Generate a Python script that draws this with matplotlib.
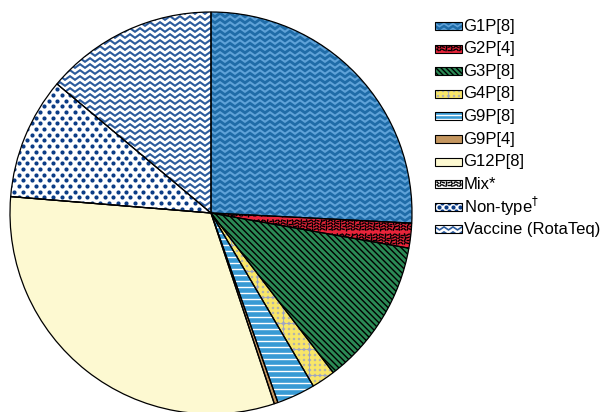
import numpy as np
import matplotlib
matplotlib.use("Agg")
import matplotlib.pyplot as plt
from matplotlib.patches import Wedge, Rectangle
from matplotlib.collections import LineCollection

plt.rcParams['font.family'] = ['Liberation Sans', 'DejaVu Sans']

# share of each genotype (%), clockwise from 12 o'clock
genotypes = ['G1P[8]', 'G2P[4]', 'G3P[8]', 'G4P[8]', 'G9P[8]', 'G9P[4]',
             'G12P[8]', 'Mix*', 'Non-type$^{\\dagger}$', 'Vaccine (RotaTeq)']
shares = [25.8, 2.0, 11.8, 1.9, 3.1, 0.3, 31.4, 0.0, 9.8, 13.9]

# base colour, texture, texture colour
styles = [
    ('#1f6ca8', 'zigzag', '#5fa2d8'),
    ('#e8243a', 'squiggle', 'black'),
    ('#2b8a55', 'diag', 'black'),
    ('#9ea4c4', 'dots_y', '#f8e668'),
    ('#389ad4', 'hlines', 'white'),
    ('#c4965f', None, None),
    ('#fdf9d1', None, None),
    ('white', 'squiggle', 'black'),
    ('white', 'dots', '#0b3c86'),
    ('white', 'zigzag', '#2c5b9c'),
]


def zigzag(ax, clip, box, color, period=10, gap=6, amp=3.6, lw=1.5):
    x0, y0, x1, y1 = box
    xs = np.arange(x0 - period, x1 + period, period / 2)
    segs = []
    for yk in np.arange(y0 - gap, y1 + gap, gap):
        ys = yk + np.where(np.arange(len(xs)) % 2 == 0, amp / 2, -amp / 2)
        segs.append(np.column_stack([xs, ys]))
    lc = LineCollection(segs, colors=color, linewidths=lw, zorder=2,
                        joinstyle='miter')
    ax.add_collection(lc, autolim=False)
    lc.set_clip_path(clip)


def diag(ax, clip, box, color, gap=4.3, lw=1.0):
    x0, y0, x1, y1 = box
    segs = []
    for c in np.arange(x0 + y0 - 2, x1 + y1 + 2, gap * np.sqrt(2)):
        segs.append([(x0 - 2, c - x0 + 2), (x1 + 2, c - x1 - 2)])
    lc = LineCollection(segs, colors=color, linewidths=lw, zorder=2)
    ax.add_collection(lc, autolim=False)
    lc.set_clip_path(clip)


def hlines(ax, clip, box, color, gap=6, lw=1.0):
    x0, y0, x1, y1 = box
    segs = [[(x0, y), (x1, y)] for y in np.arange(y0 + 1.5, y1, gap)]
    lc = LineCollection(segs, colors=color, linewidths=lw, zorder=2)
    ax.add_collection(lc, autolim=False)
    lc.set_clip_path(clip)


def squiggle(ax, clip, box, color, step=2.8, ln=3.2, lw=1.0):
    x0, y0, x1, y1 = box
    segs = []
    for i, x in enumerate(np.arange(x0, x1 + step, step)):
        for j, y in enumerate(np.arange(y0, y1 + step, step)):
            if (i * 5 + j * 3) % 5 == 0:
                continue
            a = np.deg2rad(((i * 7 + j * 13) % 12) * 15)
            dx, dy = ln / 2 * np.cos(a), ln / 2 * np.sin(a)
            segs.append([(x - dx, y - dy), (x + dx, y + dy)])
    lc = LineCollection(segs, colors=color, linewidths=lw, zorder=2)
    ax.add_collection(lc, autolim=False)
    lc.set_clip_path(clip)


def dots(ax, clip, box, color, dx=8.6, dy=5.7, ms=3.0, stagger=True):
    x0, y0, x1, y1 = box
    px, py = [], []
    for j, y in enumerate(np.arange(y0, y1 + dy, dy)):
        off = dx / 2 if (stagger and j % 2) else 0
        for x in np.arange(x0 - dx + off, x1 + dx, dx):
            px.append(x)
            py.append(y)
    ln, = ax.plot(px, py, 'o', color=color, ms=ms, mew=0, zorder=2)
    ln.set_clip_path(clip)


def texture(ax, clip, box, kind, color, small=False):
    if kind == 'zigzag':
        if small:
            zigzag(ax, clip, box, color, period=9, gap=5, amp=3, lw=1.2)
        else:
            zigzag(ax, clip, box, color)
    elif kind == 'diag':
        diag(ax, clip, box, color, gap=3.6 if small else 4.3)
    elif kind == 'hlines':
        hlines(ax, clip, box, color, gap=4 if small else 6)
    elif kind == 'squiggle':
        squiggle(ax, clip, box, color)
    elif kind == 'dots':
        dots(ax, clip, box, color, dx=7 if small else 8.6, dy=4 if small else 5.7)
    elif kind == 'dots_y':
        dots(ax, clip, box, color, dx=5.2, dy=5.2, ms=3.8, stagger=False)


fig = plt.figure(figsize=(6.04, 4.12), dpi=100)
ax = fig.add_axes([0, 0, 1, 1])

cx, cy, r = 211, 199, 201
bases = [s[0] for s in styles]
wedges, _ = ax.pie(shares, center=(cx, cy), radius=r, startangle=90,
                   counterclock=False, colors=bases,
                   wedgeprops=dict(linewidth=0))

pie_box = (cx - r, cy - r, cx + r, cy + r)
for w, (base, kind, tcol) in zip(wedges, styles):
    if kind is not None and w.theta2 - w.theta1 > 0:
        texture(ax, w, pie_box, kind, tcol)
    ax.add_patch(Wedge(w.center, w.r, w.theta1, w.theta2, fill=False,
                       edgecolor='black', linewidth=0.9, zorder=3))

# legend, drawn by hand so the swatches carry the same textures
lx, lw_, lh = 435, 27, 8
for k, (name, (base, kind, tcol)) in enumerate(zip(genotypes, styles)):
    yc = 412 - (26 + 22.6 * k)
    rect = Rectangle((lx, yc - lh / 2), lw_, lh, facecolor=base,
                     edgecolor='none', zorder=1)
    ax.add_patch(rect)
    if kind is not None:
        texture(ax, rect, (lx, yc - lh / 2, lx + lw_, yc + lh / 2), kind, tcol,
                small=True)
    ax.add_patch(Rectangle((lx, yc - lh / 2), lw_, lh, fill=False,
                           edgecolor='black', linewidth=0.8, zorder=3))
    ax.text(lx + lw_ + 1.5, yc, name, fontsize=12, va='center', ha='left')

ax.set_xlim(0, 604)
ax.set_ylim(0, 412)
ax.set_aspect('auto')
ax.axis('off')

fig.savefig('out.png', dpi=100)
